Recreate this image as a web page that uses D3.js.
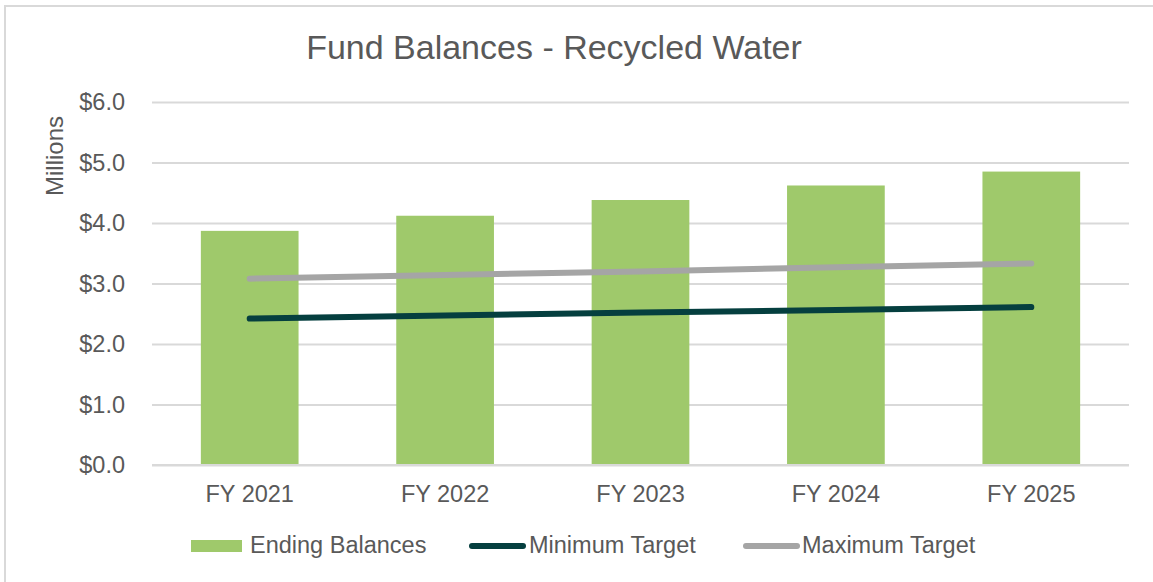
<!DOCTYPE html>
<html>
<head>
<meta charset="utf-8">
<script src="https://cdn.jsdelivr.net/npm/d3@7"></script>
<style>
  html, body { margin: 0; padding: 0; background: #fff; }
  svg { display: block; font-family: "Liberation Sans", Arial, sans-serif; }
</style>
</head>
<body>
<svg id="chart" width="1153" height="582"></svg>
<script>
const categories = ["FY 2021", "FY 2022", "FY 2023", "FY 2024", "FY 2025"];
const endingBalances = [3.87, 4.12, 4.38, 4.62, 4.85];
const minimumTarget = [2.42, 2.47, 2.52, 2.56, 2.61];
const maximumTarget = [3.08, 3.14, 3.20, 3.27, 3.33];
const yTicks = [0, 1, 2, 3, 4, 5, 6];
const seriesNames = ["Ending Balances", "Minimum Target", "Maximum Target"];
const titleText = "Fund Balances - Recycled Water";
const yAxisTitle = "Millions";

const svg = d3.select("#chart");
const textColor = "#595959";
const green = "#9fc96b";
const dark = "#053f3f";
const gray = "#a5a5a5";
const gridColor = "#d9d9d9";
const fs = 23.5;

// border
svg.append("path")
  .attr("d", "M5,582 V6 H1153")
  .attr("fill", "none").attr("stroke", gridColor).attr("stroke-width", 2);

const x = d3.scaleBand().domain(categories).range([152, 1129])
  .paddingInner(0.5).paddingOuter(0.25);
const y = d3.scaleLinear().domain([0, 6]).range([465, 102]);

// grid
const yAxis = d3.axisLeft(y).tickValues(yTicks)
  .tickSize(-(1129 - 152)).tickPadding(27)
  .tickFormat(d => "$" + d3.format(".1f")(d));
const gy = svg.append("g").attr("transform", "translate(152,0)").call(yAxis);
gy.select(".domain").remove();
gy.selectAll(".tick line").attr("stroke", gridColor).attr("stroke-width", 2);
gy.selectAll(".tick text").attr("fill", textColor).attr("font-size", fs)
  .attr("font-family", "Liberation Sans, Arial, sans-serif");

// bars
svg.append("g").selectAll("rect").data(endingBalances).join("rect")
  .attr("x", (d, i) => x(categories[i]))
  .attr("width", x.bandwidth())
  .attr("y", d => y(d))
  .attr("height", d => y(0) - y(d))
  .attr("fill", green);

// baseline over bars
svg.append("line").attr("x1", 152).attr("x2", 1129)
  .attr("y1", y(0)).attr("y2", y(0)).attr("stroke", gridColor).attr("stroke-width", 2);

// x axis labels
const xAxis = d3.axisBottom(x).tickSize(0).tickPadding(20);
const gx = svg.append("g").attr("transform", `translate(0,${y(0)})`).call(xAxis);
gx.select(".domain").remove();
gx.selectAll(".tick text").attr("fill", textColor).attr("font-size", fs)
  .attr("font-family", "Liberation Sans, Arial, sans-serif");

// lines
const line = d3.line()
  .x((d, i) => x(categories[i]) + x.bandwidth() / 2)
  .y(d => y(d));
svg.append("path").datum(maximumTarget).attr("d", line)
  .attr("fill", "none").attr("stroke", gray).attr("stroke-width", 6)
  .attr("stroke-linecap", "round").attr("stroke-linejoin", "round");
svg.append("path").datum(minimumTarget).attr("d", line)
  .attr("fill", "none").attr("stroke", dark).attr("stroke-width", 6)
  .attr("stroke-linecap", "round").attr("stroke-linejoin", "round");

// title
svg.append("text").attr("x", 554).attr("y", 59).attr("text-anchor", "middle")
  .attr("fill", textColor).attr("font-size", 34).text(titleText);

// y axis title
svg.append("text").attr("transform", "translate(63,156) rotate(-90)")
  .attr("text-anchor", "middle").attr("fill", textColor).attr("font-size", 24)
  .text(yAxisTitle);

// legend
const lg = svg.append("g");
lg.append("rect").attr("x", 191).attr("y", 540).attr("width", 51).attr("height", 12).attr("fill", green);
lg.append("text").attr("x", 250).attr("y", 553).attr("fill", textColor).attr("font-size", fs).text(seriesNames[0]);
lg.append("line").attr("x1", 472).attr("x2", 523).attr("y1", 546).attr("y2", 546)
  .attr("stroke", dark).attr("stroke-width", 6).attr("stroke-linecap", "round");
lg.append("text").attr("x", 529).attr("y", 553).attr("fill", textColor).attr("font-size", fs).text(seriesNames[1]);
lg.append("line").attr("x1", 746).attr("x2", 797).attr("y1", 546).attr("y2", 546)
  .attr("stroke", gray).attr("stroke-width", 6).attr("stroke-linecap", "round");
lg.append("text").attr("x", 802).attr("y", 553).attr("fill", textColor).attr("font-size", fs).text(seriesNames[2]);
</script>
</body>
</html>
